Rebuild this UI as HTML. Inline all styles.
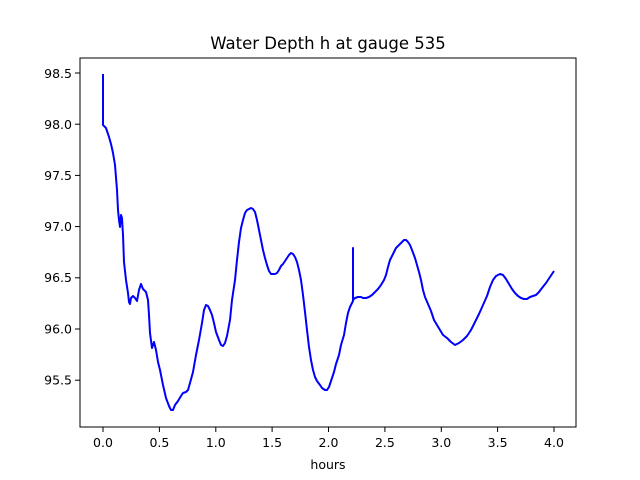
<!DOCTYPE html>
<html><head><meta charset="utf-8"><style>body{margin:0;background:#fff}svg{display:block}text{font-family:"DejaVu Sans","Liberation Sans",sans-serif;font-size:12.5px;fill:#000}</style></head><body>
<svg width="640" height="480" viewBox="0 0 640 480">
<rect width="640" height="480" fill="#fff"/>
<polyline fill="none" stroke="#0000ff" stroke-width="2" stroke-linejoin="round" points="103,74 103,124 103,125 106,128 109,137 111,144 113,153 115,165 117,190 118,210 119,220 120,227 121,215 122,218 123,235 124,262 126,280 128,293 129,302 130,304 131,298 133,296 135,298 137,301 139,290 141,284 143,289 146,292 148,300 149,315 150,333 152,348 154,342 156,350 158,362 160,370 163,385 166,398 169,406 171,410 173,410 175,405 178,401 181,396 183,393 186,392 188,390 190,383 193,372 196,355 199,340 202,323 204,310 206,305 208,306 210,310 212,315 214,323 216,332 219,340 221,345 223,346 225,343 227,336 230,320 232,300 235,280 237,260 239,242 241,228 243,220 245,213 247,210 249,209 251,208 253,209 255,212 257,220 259,230 261,240 263,250 265,258 267,265 269,271 271,274 273,274 275,274 277,273 279,270 281,266 283,264 285,261 287,258 289,255 291,253 293,254 295,257 297,262 299,270 301,280 303,295 305,312 307,330 309,347 311,360 313,370 315,377 317,381 320,385 322,388 325,390 327,390 329,387 331,381 334,372 336,364 339,355 341,345 344,335 346,323 348,313 350,307 352,303 353,301 353,248 353,300 355,298 358,297 361,297 363,298 366,298 369,297 372,295 375,292 378,289 381,285 384,280 386,275 388,267 390,260 393,254 396,248 399,245 401,243 404,240 406,240 408,242 410,245 412,250 415,258 417,265 419,272 421,280 423,290 425,297 428,304 431,311 434,320 437,325 440,330 443,335 447,338 451,342 455,345 459,343 463,340 467,336 471,330 475,322 479,314 483,305 487,296 490,287 493,280 496,276 500,274 503,275 506,279 509,284 512,289 515,293 518,296 521,298 524,299 527,299 530,297 533,296 536,295 539,292 542,288 546,283 550,277 554,271"/>
<rect x="80" y="58" width="496" height="369" fill="none" stroke="#000" stroke-width="1"/>
<g stroke="#000" stroke-width="1">
<line x1="103" y1="427" x2="103" y2="432"/><line x1="159.4" y1="427" x2="159.4" y2="432"/><line x1="215.8" y1="427" x2="215.8" y2="432"/><line x1="272.1" y1="427" x2="272.1" y2="432"/><line x1="328.5" y1="427" x2="328.5" y2="432"/><line x1="384.9" y1="427" x2="384.9" y2="432"/><line x1="441.3" y1="427" x2="441.3" y2="432"/><line x1="497.6" y1="427" x2="497.6" y2="432"/><line x1="554" y1="427" x2="554" y2="432"/>
<line x1="75" y1="73" x2="80" y2="73"/><line x1="75" y1="124.2" x2="80" y2="124.2"/><line x1="75" y1="175.4" x2="80" y2="175.4"/><line x1="75" y1="226.6" x2="80" y2="226.6"/><line x1="75" y1="277.8" x2="80" y2="277.8"/><line x1="75" y1="329" x2="80" y2="329"/><line x1="75" y1="380.2" x2="80" y2="380.2"/>
</g>
<g text-anchor="middle">
<text x="103" y="447">0.0</text><text x="159.4" y="447">0.5</text><text x="215.8" y="447">1.0</text><text x="272.1" y="447">1.5</text><text x="328.5" y="447">2.0</text><text x="384.9" y="447">2.5</text><text x="441.3" y="447">3.0</text><text x="497.6" y="447">3.5</text><text x="554" y="447">4.0</text>
<text x="328" y="469">hours</text>
<text x="328" y="49" style="font-size:16.5px">Water Depth h at gauge 535</text>
</g>
<g text-anchor="end">
<text x="72" y="78">98.5</text><text x="72" y="129">98.0</text><text x="72" y="180">97.5</text><text x="72" y="231">97.0</text><text x="72" y="282">96.5</text><text x="72" y="333.5">96.0</text><text x="72" y="384.5">95.5</text>
</g>
</svg>
</body></html>
